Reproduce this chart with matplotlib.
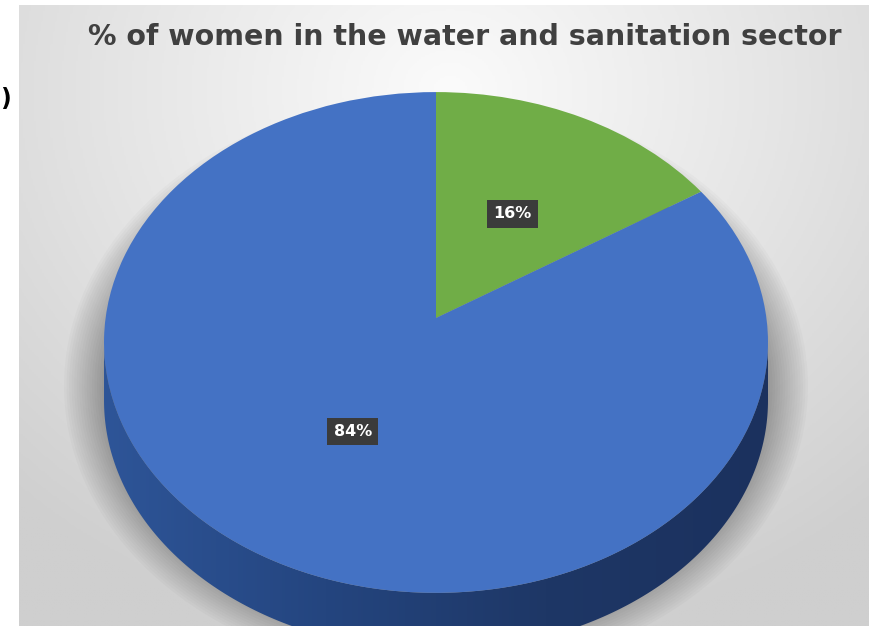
import numpy as np
import matplotlib.pyplot as plt
from matplotlib.patches import Polygon
from matplotlib.transforms import Transform
from matplotlib.colors import LinearSegmentedColormap

title = "% of women in the water and sanitation sector"
groups = ["Women", "Men"]
shares = [16, 84]
top_colors = ["#70ad47", "#4472c4"]


class Tilt(Transform):
    """Perspective view of a flat disc seen from above and in front."""
    input_dims = output_dims = 2

    def __init__(self, a, b, c):
        super().__init__()
        self.a, self.b, self.c = a, b, c

    def transform_non_affine(self, values):
        values = np.asarray(values, dtype=float)
        w = 1 + self.b * values[:, 1]
        return np.column_stack([self.c * values[:, 0] / w, self.a * values[:, 1] / w])


W, H = 881, 626
cx, cy = 436, 318          # pie apex, pixels from top-left
depth = 58                 # thickness of the disc, pixels

fig = plt.figure(figsize=(W / 100, H / 100), dpi=100)
ax = fig.add_axes([0, 0, 1, 1])
tilt = Tilt(248, 0.0977, 330.4)

# chart area background (radial grey gradient)
x0, x1, y0, y1 = 19 - cx, 869 - cx, cy - 5, cy - H
xx, yy = np.meshgrid(np.linspace(x0, x1, 400), np.linspace(y0, y1, 300))
rr = np.hypot((xx - 14) / 640, (yy - 228) / 560)
bg_cmap = LinearSegmentedColormap.from_list("bg", ["#fbfbfb", "#e6e6e6", "#cfcfcf"])
ax.imshow(rr, extent=[x0, x1, y1, y0], origin="upper", cmap=bg_cmap,
          vmin=0, vmax=1, aspect="auto", zorder=0)

# soft shadow under the disc
t_all = np.linspace(0, 2 * np.pi, 300)
rim_all = tilt.transform(np.column_stack([np.cos(t_all), np.sin(t_all)]))
shadow_xy = rim_all - [0, 0.75 * depth]
for g in np.linspace(2, 40, 16):
    ax.add_patch(Polygon(shadow_xy, closed=True, fc="black", ec="black",
                         lw=2 * g * 0.72, joinstyle="round", alpha=0.018,
                         zorder=1))

# visible front side of the disc
b = tilt.b
t = np.linspace(np.pi + np.arcsin(b), 2 * np.pi - np.arcsin(b), 200)
rim = tilt.transform(np.column_stack([np.cos(t), np.sin(t)]))
side = np.vstack([rim, rim[::-1] - [0, depth]])
side_patch = Polygon(side, closed=True, fc="none", ec="none", zorder=2)
ax.add_patch(side_patch)
side_cmap = LinearSegmentedColormap.from_list(
    "side", ["#2e5598", "#24457f", "#1e3766", "#1b315e"])
im = ax.imshow(np.linspace(0, 1, 256).reshape(1, -1),
               extent=[rim[:, 0].min(), rim[:, 0].max(),
                       rim[:, 1].min() - depth, rim[:, 1].max()],
               cmap=side_cmap, aspect="auto", zorder=2)
im.set_clip_path(side_patch)

# top face
wedges, texts, autotexts = ax.pie(
    shares, colors=top_colors, startangle=90, counterclock=False,
    autopct="%.0f%%", pctdistance=0.5,
    wedgeprops=dict(lw=0, zorder=3),
    textprops=dict(color="white", fontsize=11.5, fontweight="bold",
                   family="DejaVu Sans"))
for w in wedges:
    w.set_transform(tilt + ax.transData)
for txt in texts:
    txt.set_visible(False)
for txt in autotexts:
    txt.set_transform(tilt + ax.transData)
    txt.set_bbox(dict(boxstyle="square,pad=0.4", fc="#3b3b3b", ec="none"))
    txt.set_zorder(5)

ax.set_aspect("auto")
ax.set_xlim(-cx, W - cx)
ax.set_ylim(cy - H, cy)
ax.axis("off")

fig.text(465 / W, 1 - 37 / H, title, ha="center", va="center",
         fontsize=20.5, fontweight="bold", color="#404040", family="DejaVu Sans")
# partly visible character of neighbouring text at the left edge
fig.text(0, 1 - 99 / H, ")", ha="left", va="center",
         fontsize=17, fontweight="bold", color="black")

fig.savefig("out.png", dpi=100)
